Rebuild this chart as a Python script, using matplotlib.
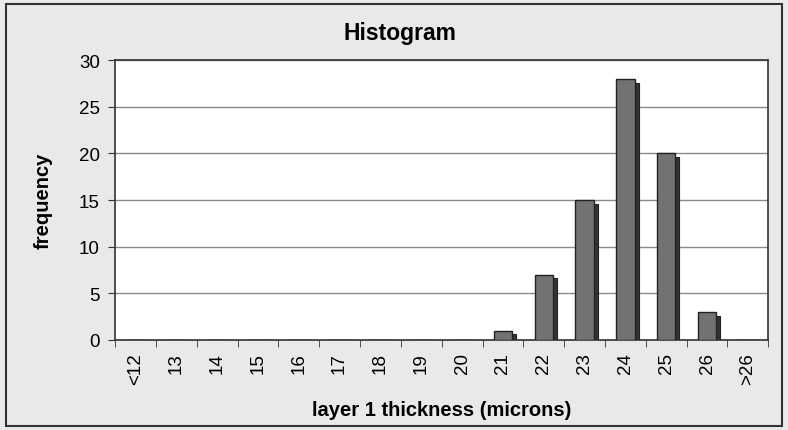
import matplotlib.pyplot as plt
import numpy as np
from matplotlib.patches import Rectangle

categories = ['<12', '13', '14', '15', '16', '17', '18', '19', '20',
              '21', '22', '23', '24', '25', '26', '>26']
frequency = [0, 0, 0, 0, 0, 0, 0, 0, 0, 1, 7, 15, 28, 20, 3, 0]

plt.rcParams['font.family'] = ['Liberation Sans', 'DejaVu Sans']

fig = plt.figure(figsize=(7.88, 4.31), dpi=100, facecolor='#e9e9e9')
ax = fig.add_axes([0.146, 0.209, 0.829, 0.649])

x = np.arange(len(categories))
w = 0.45
# dark shadow behind each bar, shifted right and a bit down
ax.bar(x + 0.1, np.maximum(np.array(frequency) - 0.4, 0), width=w,
       color='#333333', edgecolor='#222222', linewidth=0.8, zorder=2)
ax.bar(x, frequency, width=w, color='#727272', edgecolor='#222222',
       linewidth=1.0, zorder=3)

ax.set_xlim(-0.5, len(categories) - 0.5)
ax.set_ylim(0, 30)
ax.set_yticks(range(0, 31, 5))
ax.set_xticks(x)
ax.set_xticklabels(categories, rotation=90, fontsize=13.5)
ax.set_xticks(np.arange(-0.5, len(categories), 1), minor=True)
ax.tick_params(axis='x', which='major', length=0, pad=9)
ax.tick_params(axis='x', which='minor', length=5, direction='out', color='#333333')
ax.tick_params(axis='y', length=5, direction='out', labelsize=13.5, color='#333333', pad=6)
ax.grid(axis='y', color='#8a8a8a', linewidth=1.0, zorder=0)
ax.set_axisbelow(True)
ax.set_facecolor('white')
for s in ax.spines.values():
    s.set_color('#333333')
    s.set_linewidth(1.2)

fig.suptitle('Histogram', x=0.508, y=0.923, va='center', fontsize=16.5, fontweight='bold')
ax.set_ylabel('frequency', fontsize=14.5, fontweight='bold', labelpad=19)
ax.set_xlabel('layer 1 thickness (microns)', fontsize=14.5, fontweight='bold', labelpad=11)

fig.patches.append(Rectangle((0.008, 0.01), 0.985, 0.978, transform=fig.transFigure,
                             fill=False, edgecolor='#333333', linewidth=1.5))

fig.savefig('out.png', dpi=100, facecolor=fig.get_facecolor())
